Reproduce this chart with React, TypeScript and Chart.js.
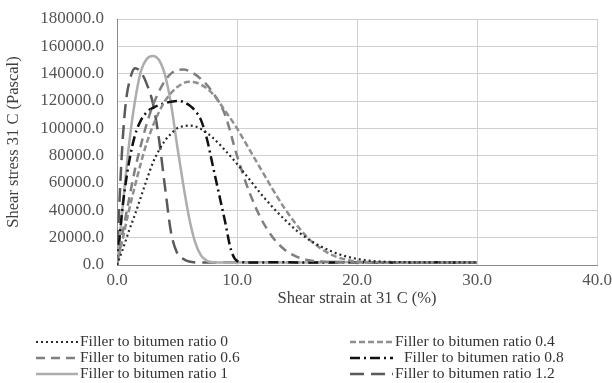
import React, { useEffect, useRef } from "react";
import { Chart, registerables } from "chart.js";

Chart.register(...registerables);

// ---- data ----
const seriesLabels = [
  "Filler to bitumen ratio 0",
  "Filler to bitumen ratio 0.4",
  "Filler to bitumen ratio 0.6",
  "Filler to bitumen ratio 0.8",
  "Filler to bitumen ratio 1",
  "Filler to bitumen ratio 1.2",
];

const strain0 = [0, 0.5, 1, 1.5, 2, 2.5, 3, 3.5, 4, 4.5, 5, 5.5, 6, 6.5, 7, 8, 9, 10, 11, 12, 13, 14, 15, 16, 17, 18, 19, 20, 21, 22, 24, 26, 28, 30];
const stress0 = [0, 12000, 25000, 37000, 50000, 63000, 75000, 84000, 91000, 96000, 100000, 101500, 102000, 101500, 99500, 93000, 84000, 74000, 63000, 52000, 42000, 33000, 25000, 18500, 13500, 9500, 6500, 4500, 3200, 2500, 2100, 1900, 1900, 2000];

const strain04 = [0, 0.5, 1, 1.5, 2, 2.5, 3, 3.5, 4, 5, 6, 7, 8, 9, 10, 11, 12, 13, 14, 15, 16, 17, 18, 19, 20, 22, 24, 26, 28, 30];
const stress04 = [0, 20000, 40000, 58000, 75000, 90000, 102000, 112000, 120000, 130000, 134000, 132000, 125000, 113000, 100000, 85000, 70000, 55000, 41000, 29000, 19000, 12000, 7000, 4000, 2500, 2000, 1900, 1800, 1900, 2000];

const strain06 = [0, 0.5, 1, 1.5, 2, 2.5, 3, 3.5, 4, 4.5, 5, 5.5, 6, 7, 8, 9, 10, 11, 12, 13, 14, 15, 16, 17, 18, 20, 22, 24, 26, 28, 30];
const stress06 = [0, 25000, 48000, 70000, 88000, 104000, 117000, 127000, 135000, 140000, 142500, 143000, 142000, 136000, 126000, 110000, 80000, 54000, 34000, 20000, 11000, 6000, 3500, 2500, 2000, 1800, 1900, 2000, 1800, 1900, 2000];

const strain08 = [0, 0.5, 1, 1.5, 2, 2.5, 3, 3.5, 4, 4.5, 5, 5.5, 6, 6.5, 7, 7.5, 8, 8.5, 9, 9.5, 10, 10.5, 11, 12, 14, 16, 18, 20, 22, 24, 26, 28, 30];
const stress08 = [0, 45000, 75000, 95000, 106000, 112000, 115000, 117000, 118500, 119500, 120000, 119500, 117000, 113000, 106000, 92000, 72000, 52000, 32000, 11000, 3000, 2000, 1800, 1900, 2000, 1800, 1900, 2100, 1900, 1800, 2000, 1900, 2000];

const strain1 = [0, 0.5, 1, 1.5, 2, 2.5, 3, 3.5, 4, 4.5, 5, 5.5, 6, 6.5, 7, 7.5, 8, 9, 10, 12, 14, 16, 18, 20, 22, 24, 26, 28, 30];
const stress1 = [0, 45000, 88000, 120000, 142000, 151000, 153000, 150000, 139000, 118000, 88000, 60000, 35000, 17000, 7000, 3000, 2000, 1800, 1900, 2000, 1800, 1900, 2000, 2100, 1900, 2000, 1800, 1900, 2000];

const strain12 = [0, 0.25, 0.5, 0.75, 1, 1.5, 2, 2.5, 3, 3.5, 4, 4.5, 5, 5.5, 6, 7, 8, 10, 12, 14, 16, 18, 20, 22, 24, 26, 28, 30];
const stress12 = [0, 55000, 95000, 120000, 133000, 144000, 141000, 132000, 118000, 92000, 57000, 24000, 9000, 4500, 2500, 1800, 1900, 2000, 2100, 1900, 2000, 2200, 2000, 1900, 2100, 2000, 1900, 2000];

const xTicks = [0, 10, 20, 30, 40];
const yTicks = [0, 20000, 40000, 60000, 80000, 100000, 120000, 140000, 160000, 180000];

const seriesStrain = [strain0, strain04, strain06, strain08, strain1, strain12];
const seriesStress = [stress0, stress04, stress06, stress08, stress1, stress12];

// ---- styles ----
const FONT = '"Liberation Serif", "Times New Roman", serif';
const seriesColors = ["#2b2b2b", "#8f8f8f", "#7f7f7f", "#111111", "#adadad", "#5a5a5a"];
const seriesDash = [[2, 3], [6, 3], [9, 6], [10, 4, 2, 4], [], [14, 7]];
const seriesWidth = [2.2, 2.5, 2.5, 2.5, 2.5, 2.5];

const legendPlugin = {
  id: "customLegend",
  afterDraw(chart: any) {
    const ctx = chart.ctx;
    ctx.save();
    ctx.font = `15.5px ${FONT}`;
    ctx.textBaseline = "middle";
    ctx.textAlign = "left";
    chart.data.datasets.forEach((ds: any, i: number) => {
      const col = i % 2;
      const row = Math.floor(i / 2);
      const y = 342 + row * 16;
      const x0 = col === 0 ? 36 : 350;
      const x1 = col === 0 ? 78 : 393;
      ctx.strokeStyle = ds.borderColor;
      ctx.lineWidth = ds.borderWidth;
      ctx.setLineDash(ds.borderDash || []);
      ctx.beginPath();
      ctx.moveTo(x0, y);
      ctx.lineTo(x1, y);
      ctx.stroke();
      ctx.setLineDash([]);
      ctx.fillStyle = "#333333";
      const tx = col === 1 && row === 1 ? x1 + 11 : x1 + 2;
      ctx.fillText(ds.label, tx, y);
    });
    ctx.restore();
  },
};

export default function App() {
  const canvasRef = useRef<HTMLCanvasElement | null>(null);

  useEffect(() => {
    document.body.style.margin = "0";
    const canvas = canvasRef.current;
    if (!canvas) return;
    const datasets = seriesLabels.map((label, i) => ({
      label,
      data: seriesStrain[i].map((x, j) => ({ x, y: seriesStress[i][j] })),
      borderColor: seriesColors[i],
      backgroundColor: seriesColors[i],
      borderDash: seriesDash[i],
      borderWidth: seriesWidth[i],
      pointRadius: 0,
      fill: false,
      cubicInterpolationMode: "monotone" as const,
    }));

    const chart = new Chart(canvas, {
      type: "line",
      data: { datasets },
      plugins: [legendPlugin],
      options: {
        animation: false,
        responsive: false,
        maintainAspectRatio: false,
        layout: { padding: { top: 19, right: 15, bottom: 68, left: 0 } },
        plugins: { legend: { display: false }, tooltip: { enabled: false } },
        scales: {
          x: {
            type: "linear",
            min: 0,
            max: 40,
            afterBuildTicks: (scale: any) => {
              scale.ticks = xTicks.map((v) => ({ value: v }));
            },
            afterFit: (scale: any) => {
              scale.height = 50;
              scale.paddingLeft = 0;
              scale.paddingRight = 0;
            },
            ticks: {
              callback: (v: any) => Number(v).toFixed(1),
              font: { family: FONT, size: 17 },
              color: "#555555",
              padding: 5,
              maxRotation: 0,
              autoSkip: false,
            },
            grid: { color: "#d0d0d0", drawTicks: false, lineWidth: 1 },
            border: { color: "#8a8a8a", width: 1 },
            title: {
              display: true,
              text: "Shear strain at 31 C (%)",
              font: { family: FONT, size: 16.5 },
              color: "#404040",
              padding: { top: 0, bottom: 6 },
            },
          },
          y: {
            type: "linear",
            min: 0,
            max: 180000,
            afterBuildTicks: (scale: any) => {
              scale.ticks = yTicks.map((v) => ({ value: v }));
            },
            afterFit: (scale: any) => {
              scale.width = 117;
              scale.paddingTop = 0;
              scale.paddingBottom = 0;
            },
            ticks: {
              callback: (v: any) => Number(v).toFixed(1),
              font: { family: FONT, size: 17 },
              color: "#555555",
              padding: 13,
              autoSkip: false,
            },
            grid: { color: "#d0d0d0", drawTicks: false, lineWidth: 1 },
            border: { color: "#8a8a8a", width: 1 },
            title: {
              display: true,
              text: "Shear stress 31 C (Pascal)",
              font: { family: FONT, size: 16.5 },
              color: "#404040",
              padding: { top: 4, bottom: 0 },
            },
          },
        },
      },
    });
    return () => chart.destroy();
  }, []);

  return (
    <div style={{ width: 612, height: 383, position: "relative" }}>
      <canvas ref={canvasRef} width={612} height={383} style={{ display: "block" }} />
    </div>
  );
}
